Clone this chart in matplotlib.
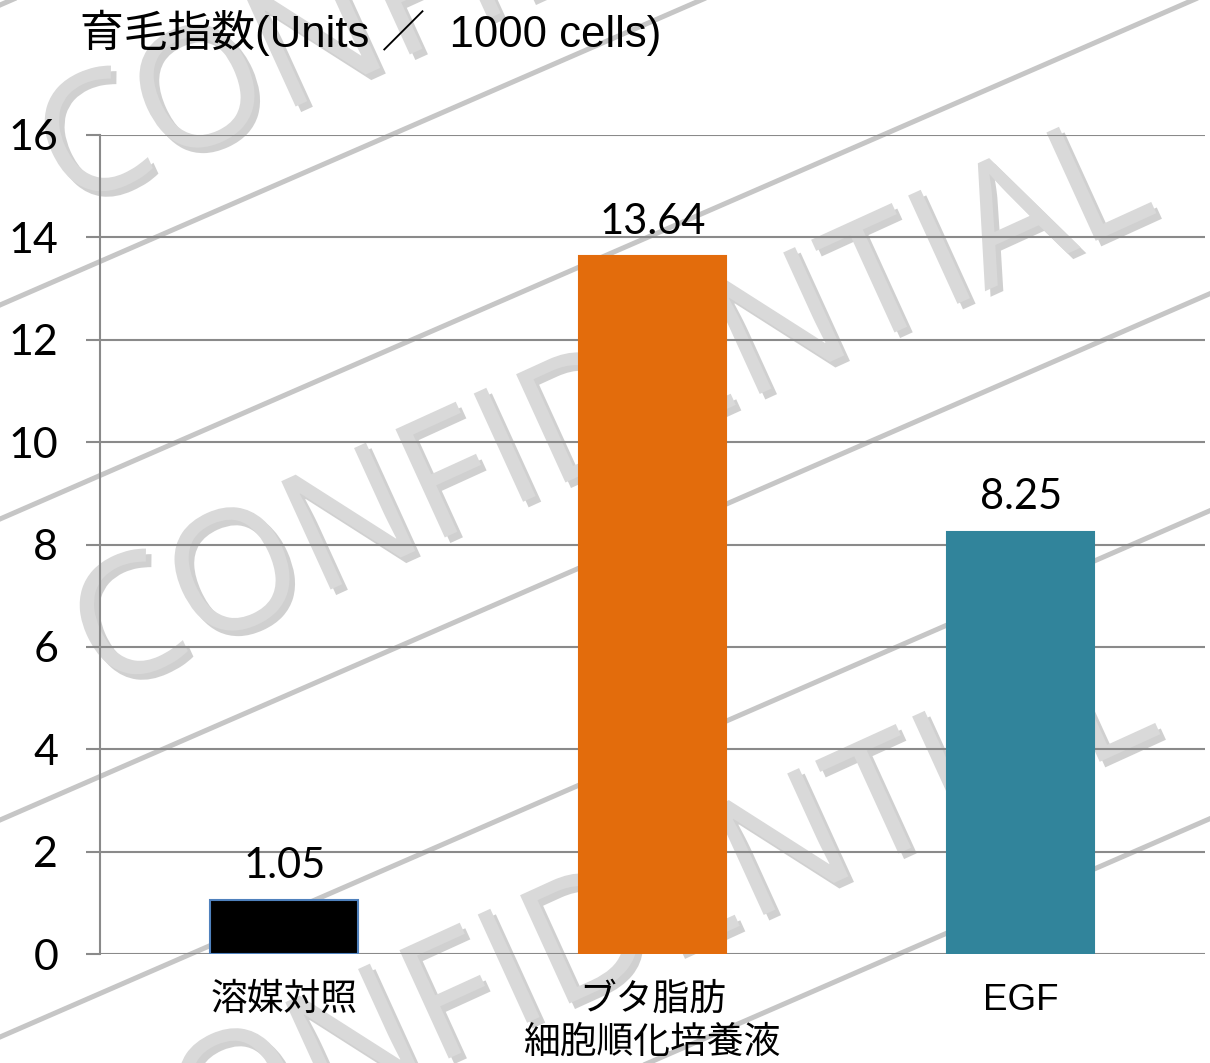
import matplotlib
matplotlib.use("Agg")
import matplotlib.pyplot as plt
import matplotlib.patheffects as pe
from matplotlib.lines import Line2D
import numpy as np

# ---- data ----
categories = ["溶媒対照", "ブタ脂肪\n細胞順化培養液", "EGF"]
values = [1.05, 13.64, 8.25]
value_labels = ["1.05", "13.64", "8.25"]
bar_colors = ["#000000", "#E36C0C", "#31849B"]
bar_edges = ["#4F81BD", "#E36C0C", "#31849B"]
yticks = [0, 2, 4, 6, 8, 10, 12, 14, 16]
title = "育毛指数(Units ／  1000 cells)"
watermark = "CONFIDENTIAL"

W, H = 1210, 1063
fig = plt.figure(figsize=(W / 100, H / 100), dpi=100, facecolor="white")

# ---- watermark (behind the chart) ----
def fx(px):
    return px / W

def fy(py):
    return 1 - py / H

slope = 0.435
for b in [5, 305, 519, 820, 1037, 1345]:
    xs = np.array([0, W])
    ys = b - slope * xs
    fig.add_artist(Line2D(fx(xs), fy(ys), transform=fig.transFigure,
                          color="#c6c6c6", lw=3.6, zorder=-2))

ang = 24.5
for (cx, cy) in [(578, -70), (613, 413), (617, 934)]:
    fig.text(fx(cx), fy(cy), watermark, fontsize=120, family="Open Sans",
             color="#d9d9d9", rotation=ang, rotation_mode="anchor",
             ha="center", va="center", zorder=-1,
             path_effects=[pe.withSimplePatchShadow(offset=(4, -4),
                                                   shadow_rgbFace="#7a7a7a",
                                                   alpha=0.35)])

# ---- axes ----
ax = fig.add_axes([100 / W, (H - 954) / H, (1205 - 100) / W, (954 - 135) / H])
ax.set_facecolor("none")
ax.set_zorder(1)

x = np.arange(len(categories))
bars = ax.bar(x, values, width=0.4, color=bar_colors, edgecolor=bar_edges,
              linewidth=1.5, zorder=3)
ax.bar_label(bars, labels=value_labels, padding=11, fontsize=30,
             family="Lato", color="black")

ax.set_xlim(-0.5, 2.5)
ax.set_ylim(0, 16)
ax.set_yticks(yticks)
ax.set_yticklabels([str(t) for t in yticks], fontsize=31, family="Lato")
ax.yaxis.grid(True, color="#8a8a8a", lw=1.5, zorder=0)
ax.set_axisbelow(True)

ax.set_xticks(x)
ax.set_xticklabels(categories, fontsize=26.5,
                   family=["Liberation Sans", "Noto Sans CJK JP"],
                   linespacing=1.3)
ax.tick_params(axis="x", length=0, pad=21)
ax.tick_params(axis="y", length=10, width=1.5, color="#8a8a8a", pad=20,
               direction="out")

for s in ["top", "right", "bottom"]:
    ax.spines[s].set_visible(False)
ax.spines["left"].set_color("#8a8a8a")
ax.spines["left"].set_linewidth(1.5)

fig.text(80 / W, fy(33), title, fontsize=31.5,
         family=["Liberation Sans", "Noto Sans CJK JP"],
         ha="left", va="center", zorder=5)

fig.savefig("out.png", dpi=100, facecolor="white")
